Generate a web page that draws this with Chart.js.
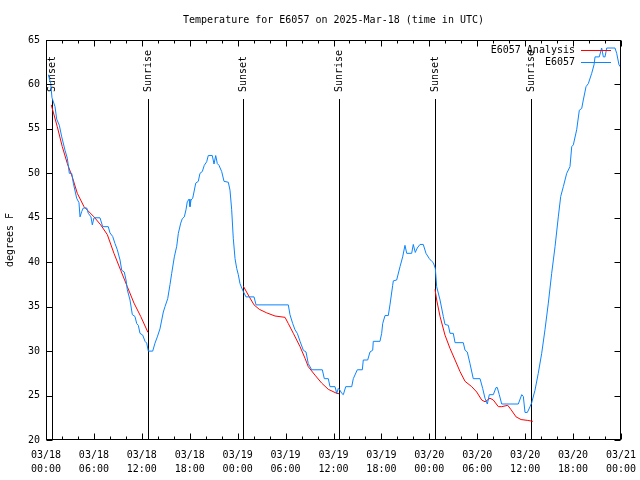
<!DOCTYPE html>
<html><head><meta charset="utf-8">
<script src="https://cdn.jsdelivr.net/npm/chart.js@4.4.1/dist/chart.umd.min.js"></script>
<style>html,body{margin:0;padding:0;background:#fff}#wrap{width:640px;height:480px}</style>
</head><body><div id="wrap"><canvas id="c" width="640" height="480"></canvas></div>
<script>
const tickLabels = [["03/18","00:00"],["03/18","06:00"],["03/18","12:00"],["03/18","18:00"],["03/19","00:00"],["03/19","06:00"],["03/19","12:00"],["03/19","18:00"],["03/20","00:00"],["03/20","06:00"],["03/20","12:00"],["03/20","18:00"],["03/21","00:00"]];
const yTicks = [20,25,30,35,40,45,50,55,60,65];

const obsHours = [0.29,0.59,0.75,1.13,1.34,1.67,1.97,2.38,2.67,2.92,3.22,3.42,3.84,4.13,4.26,4.47,4.67,5.10,5.30,5.63,5.80,6.01,6.76,7.10,7.80,8.01,8.35,8.64,8.93,9.27,9.48,9.80,10.02,10.18,10.52,10.81,11.14,11.36,11.56,11.77,12.11,12.40,12.61,12.81,13.36,13.65,13.94,14.27,14.69,14.90,15.24,15.53,15.74,16.07,16.37,16.57,16.87,17.07,17.32,17.53,17.69,17.91,18.03,18.16,18.37,18.53,18.75,19.07,19.28,19.57,19.82,20.12,20.32,20.82,21.04,21.25,21.45,21.66,22.00,22.29,22.83,23.04,23.25,23.45,23.67,23.88,24.08,24.29,24.51,24.71,25.04,26.05,26.30,30.34,30.55,30.89,31.18,31.47,31.81,32.22,32.56,32.84,33.27,34.60,34.85,35.35,35.56,36.19,36.40,36.60,36.81,37.03,37.23,37.53,38.28,38.48,38.98,39.61,39.73,40.28,40.57,40.91,40.98,41.82,42.03,42.16,42.45,42.86,43.07,43.41,43.49,43.91,44.33,44.66,44.95,45.17,45.79,45.99,46.24,46.49,46.83,47.24,47.58,48.00,48.30,48.50,48.75,48.92,49.34,49.75,49.96,50.38,50.59,51.00,51.22,52.25,52.47,52.75,53.09,53.50,54.35,54.68,54.97,55.26,55.51,56.01,56.35,56.51,56.76,57.06,59.14,59.57,59.77,59.98,60.27,60.61,60.82,61.23,61.64,62.07,62.48,62.90,63.32,63.74,64.15,64.45,64.78,65.20,65.61,65.83,66.03,66.45,66.78,67.08,67.28,67.62,67.91,68.33,68.62,68.75,69.28,69.58,69.79,70.00,70.21,71.25,71.46,71.75,72.0];
const obsTemps = [61.1,60.1,58.5,57.5,56.1,55.4,54.1,52.6,51.7,50.0,50.0,48.9,47.2,46.7,45.1,45.7,46.1,46.1,45.5,45.1,44.2,45.0,45.0,44.0,44.0,43.3,42.9,42.1,41.4,40.25,39.1,38.9,38.0,36.9,35.75,34.1,33.9,33.1,32.9,32.0,31.8,31.1,30.9,30.0,30.0,30.9,31.6,32.5,34.4,35.0,35.9,37.5,38.75,40.6,41.8,43.25,44.4,44.9,45.1,45.9,46.8,47.1,46.25,47.0,47.2,47.9,48.9,49.1,50.0,50.2,50.9,51.3,52.0,52.0,51.05,52.0,51.1,50.9,50.2,49.1,49.0,48.1,45.9,42.7,40.4,39.3,38.6,37.6,37.1,36.7,36.1,36.1,35.2,35.2,34.1,33.1,32.4,32.0,31.1,30.1,29.9,28.6,27.9,27.9,26.9,26.9,26.0,26.0,25.25,25.8,25.6,25.25,25.1,26.0,26.0,26.9,27.9,27.9,29.0,29.0,29.9,30.1,31.1,31.1,32.0,33.1,34.0,34.0,35.2,37.4,37.9,38.0,39.5,40.6,41.9,41.0,41.0,42.0,41.1,41.6,42.0,42.0,41.0,40.4,40.1,39.95,39.3,37.25,35.75,33.9,33.0,32.9,32.0,32.0,30.95,30.95,30.1,29.9,28.6,26.9,26.9,25.8,24.7,24.05,25.1,25.1,25.9,25.9,25.1,24.05,24.05,25.1,24.9,23.1,23.1,23.75,24.2,25.6,27.5,29.75,32.4,35.4,38.75,41.75,45.1,47.4,48.5,50.0,50.75,53.0,53.2,54.9,57.1,57.3,58.25,59.75,60.1,61.25,62.2,63.1,63.1,64.1,63.1,63.1,64.1,64.1,63.5,62.2,61.9];

const anaHours = [0.66,1.41,2.04,2.67,3.29,3.92,4.76,6.01,6.85,7.68,8.51,9.35,10.18,11.02,11.86,12.77, 18,
  24.71,25.46,26.05,26.71,27.64,28.68,29.93,30.34,30.97,31.81,32.43,32.84,33.68,34.52,35.35,36.40,36.73, 42,
  48.71,48.92,49.34,49.96,50.59,51.22,51.84,52.47,53.31,53.93,54.56,54.97,55.60,56.01,56.64,57.06,57.82,58.24,58.86,59.49,60.33,60.96];
const anaTemps = [57.7,55.25,53.0,51.1,49.6,47.75,46.25,45.1,44.2,43.1,41.0,39.1,37.25,35.4,33.9,32.1, null,
  37.3,36.1,35.2,34.7,34.3,33.95,33.8,33.1,32.0,30.5,29.2,28.25,27.3,26.4,25.7,25.25,25.2, null,
  36.95,35.75,33.9,31.8,30.3,29.0,27.7,26.6,26.0,25.4,24.5,24.3,24.7,24.5,23.75,23.75,23.9,23.4,22.6,22.3,22.2,22.1];

const eventNames = ["Sunset","Sunrise","Sunset","Sunrise","Sunset","Sunrise"];
const eventHours = [0.72,12.8,24.7,36.73,48.72,60.78];

const MONO = "'DejaVu Sans Mono', 'Liberation Mono', monospace";
const BLUE = "#0a84ff";
const RED = "#ff0000";

const obs = obsHours.map((h,i)=>({x:h,y:obsTemps[i]}));
const ana = anaHours.map((h,i)=>({x:h,y:anaTemps[i]}));

const eventsPlugin = {
  id:'events',
  beforeDatasetsDraw(chart){
    const {ctx, chartArea:ca, scales:{x}} = chart;
    ctx.save();
    ctx.strokeStyle='#000'; ctx.lineWidth=1;
    ctx.fillStyle='#000'; ctx.font='10px '+MONO;
    eventHours.forEach((h,i)=>{
      const px = Math.round(x.getPixelForValue(h))+0.5;
      ctx.beginPath(); ctx.moveTo(px, 99); ctx.lineTo(px, ca.bottom); ctx.stroke();
      ctx.save();
      ctx.translate(px, 92); ctx.rotate(-Math.PI/2);
      ctx.textAlign='left'; ctx.textBaseline='middle';
      ctx.fillText(eventNames[i], 0, 0);
      ctx.restore();
    });
    ctx.restore();
  }
};

const framePlugin = {
  id:'frame',
  afterDatasetsDraw(chart){
    const {ctx, chartArea:ca, scales:{x,y}} = chart;
    ctx.save();
    ctx.strokeStyle='#000'; ctx.lineWidth=1;
    const L=Math.round(ca.left)+0.5, R=Math.round(ca.right)-0.5, T=Math.round(ca.top)+0.5, B=Math.round(ca.bottom)-0.5;
    ctx.strokeRect(L,T,R-L,B-T);
    ctx.beginPath();
    for(let h=0; h<=72; h+=2){
      const px = Math.round(x.getPixelForValue(h))+0.5;
      const len = (h%6===0)?6:3;
      ctx.moveTo(px,B); ctx.lineTo(px,B-len);
      ctx.moveTo(px,T); ctx.lineTo(px,T+len);
    }
    yTicks.forEach(v=>{
      const py = Math.round(y.getPixelForValue(v))+0.5;
      ctx.moveTo(L,py); ctx.lineTo(L+6,py);
      ctx.moveTo(R,py); ctx.lineTo(R-6,py);
    });
    ctx.stroke();
    ctx.font='10px '+MONO; ctx.fillStyle='#000';
    ctx.textAlign='right'; ctx.textBaseline='middle';
    const items=[["E6057 Analysis",RED],["E6057",BLUE]];
    items.forEach((it,i)=>{
      const yy = 50 + i*12;
      ctx.fillText(it[0], 575, yy);
      ctx.strokeStyle=it[1];
      ctx.beginPath(); ctx.moveTo(581, yy+0.5); ctx.lineTo(611, yy+0.5); ctx.stroke();
    });
    ctx.restore();
  }
};

new Chart(document.getElementById('c'), {
  type:'line',
  data:{datasets:[
    {label:'E6057', data:obs, borderColor:BLUE, borderWidth:1, pointRadius:0, tension:0, order:0, fill:false},
    {label:'E6057 Analysis', data:ana, borderColor:RED, borderWidth:1, pointRadius:0, tension:0, order:1, fill:false, spanGaps:false}
  ]},
  options:{
    responsive:false, animation:false, devicePixelRatio:1,
    layout:{padding:{left:0,right:19,top:0,bottom:0}},
    plugins:{
      legend:{display:false}, tooltip:{enabled:false},
      title:{display:true, fullSize:false, text:'Temperature for E6057 on 2025-Mar-18 (time in UTC)', color:'#000',
        font:{family:MONO, size:10, weight:'normal', lineHeight:1.2}, padding:{top:14,bottom:14}}
    },
    scales:{
      x:{type:'linear', min:0, max:72,
        afterBuildTicks:s=>{ s.ticks = tickLabels.map((_,i)=>({value:i*6})); },
        afterFit:s=>{ s.height = 40; s.paddingLeft = 0; s.paddingRight = 0; },
        ticks:{autoSkip:false, maxRotation:0, minRotation:0, padding:8, color:'#000',
          font:{family:MONO, size:10, lineHeight:1.4},
          callback:(v,i)=>tickLabels[i]},
        grid:{display:false, drawTicks:false}, border:{display:false}},
      y:{min:20, max:65,
        afterBuildTicks:s=>{ s.ticks = yTicks.map(v=>({value:v})); },
        afterFit:s=>{ s.width = 46; s.paddingTop = 0; s.paddingBottom = 0; },
        ticks:{padding:6, color:'#000', font:{family:MONO, size:10}},
        title:{display:true, text:'degrees F', color:'#000', font:{family:MONO, size:10, lineHeight:1.2}, padding:{top:4,bottom:0}},
        grid:{display:false, drawTicks:false}, border:{display:false}}
    }
  },
  plugins:[eventsPlugin, framePlugin]
});
</script></body></html>
